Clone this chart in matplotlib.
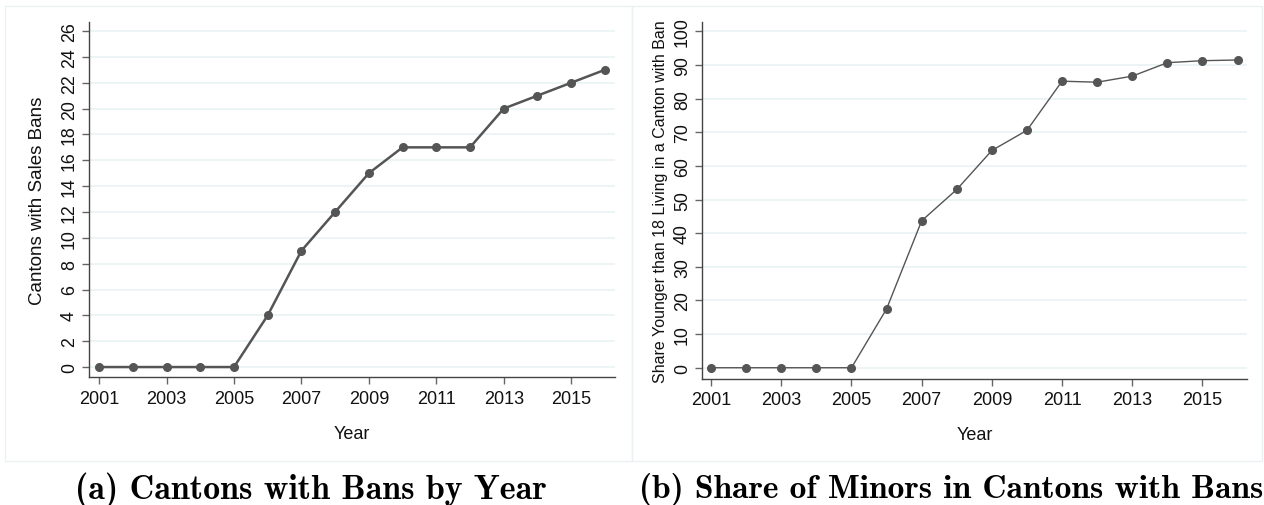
import matplotlib
matplotlib.use("Agg")
import matplotlib.pyplot as plt
from matplotlib.patches import Rectangle

years = list(range(2001, 2017))
cantons_with_bans = [0, 0, 0, 0, 0, 4, 9, 12, 15, 17, 17, 17, 20, 21, 22, 23]
share_minors = [0, 0, 0, 0, 0, 17.5, 43.7, 53.0, 64.6, 70.6, 85.2, 84.9, 86.7, 90.7, 91.3, 91.5]
x_ticks = [2001, 2003, 2005, 2007, 2009, 2011, 2013, 2015]
left_yticks = list(range(0, 27, 2))
right_yticks = list(range(0, 101, 10))

W, H = 1264, 506
fig = plt.figure(figsize=(W / 100, H / 100), dpi=100)
plt.rcParams['font.family'] = ['Liberation Sans', 'DejaVu Sans']

def ax_rect(l, r, t, b):
    return [l / W, 1 - b / H, (r - l) / W, (b - t) / H]

line_col = '#555555'
grid_col = '#EAF2F3'
frame_col = '#EBF0F2'

# panel frames
for (l, r) in [(5, 632), (632, 1262)]:
    fig.patches.append(Rectangle((l / W, 1 - 462 / H), (r - l) / W, (462 - 7) / H,
                                 transform=fig.transFigure, fill=False,
                                 edgecolor=frame_col, linewidth=1.0))

def style(ax, yticks, xlim, ylim):
    ax.set_xlim(*xlim)
    ax.set_ylim(*ylim)
    ax.set_xticks(x_ticks)
    ax.set_yticks(yticks)
    ax.set_yticklabels([str(v) for v in yticks], rotation=90, va='center')
    for s in ['top', 'right']:
        ax.spines[s].set_visible(False)
    for s in ['left', 'bottom']:
        ax.spines[s].set_color('#444444')
        ax.spines[s].set_linewidth(1.0)
    ax.tick_params(axis='both', direction='out', length=5, width=1, color='#666666',
                   labelcolor='#111111')
    ax.tick_params(axis='x', pad=4, labelsize=13)
    ax.tick_params(axis='y', pad=3, labelsize=12.8)
    ax.grid(axis='y', color=grid_col, linewidth=1.2)
    ax.set_axisbelow(True)
    ax.set_xlabel('Year', fontsize=13, labelpad=13, color='#111111')

# left panel
ax1 = fig.add_axes(ax_rect(89, 615, 23, 378))
style(ax1, left_yticks, (2000.70, 2016.30), (-0.77, 26.7))
ax1.plot(years, cantons_with_bans, color=line_col, linewidth=1.8, marker='o',
         markersize=5.5, markerfacecolor=line_col, markeredgecolor=line_col)
ax1.set_ylabel('Cantons with Sales Bans', fontsize=13.5, labelpad=11, color='#111111')

# right panel
ax2 = fig.add_axes(ax_rect(702, 1247, 23, 379.5))
style(ax2, right_yticks, (2000.74, 2016.27), (-3.2, 102.8))
ax2.plot(years, share_minors, color=line_col, linewidth=1.0, marker='o',
         markersize=5.5, markerfacecolor=line_col, markeredgecolor=line_col)
ax2.set_ylabel('Share Younger than 18 Living in a Canton with Ban', fontsize=11.5,
               labelpad=4, color='#111111')

# captions
fig.text(311 / W, 1 - 490 / H, '(a) Cantons with Bans by Year', family='cmb10',
         fontsize=24.5, ha='center', va='center')
fig.text(951 / W, 1 - 490 / H, '(b) Share of Minors in Cantons with Bans', family='cmb10',
         fontsize=24.2, ha='center', va='center')

fig.savefig('out.png', dpi=100, facecolor='white')
